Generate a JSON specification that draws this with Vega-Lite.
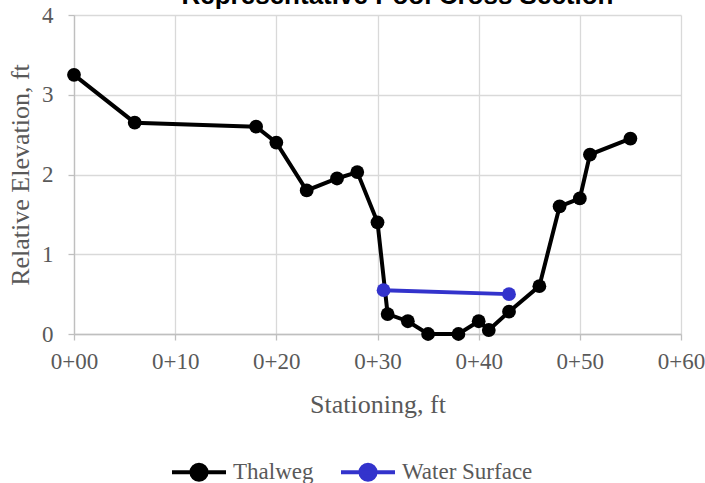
{
  "$schema": "https://vega.github.io/schema/vega-lite/v6.json",
  "width": 607,
  "height": 319,
  "autosize": {"type": "none"},
  "padding": {"left": 74, "top": 15, "right": 24, "bottom": 149},
  "background": "white",
  "title": {
    "text": "Representative Pool Cross Section",
    "font": "Liberation Sans",
    "fontWeight": "bold",
    "fontSize": 26,
    "color": "black",
    "anchor": "middle",
    "frame": "group",
    "baseline": "bottom",
    "offset": -31,
    "dx": 20
  },
  "config": {
    "view": {"stroke": null},
    "legend": {
      "labelFont": "Times New Roman",
      "labelFontSize": 23,
      "labelColor": "#595959"
    },
    "axis": {
      "labelFont": "Times New Roman",
      "titleFont": "Times New Roman",
      "labelColor": "#595959",
      "titleColor": "#595959",
      "labelFontSize": 23,
      "titleFontSize": 26,
      "titleFontWeight": "normal",
      "gridColor": "#d9d9d9",
      "gridWidth": 1.3,
      "domainColor": "#bfbfbf",
      "domainWidth": 1.3,
      "tickColor": "#bfbfbf",
      "tickSize": 6,
      "tickWidth": 1.3
    }
  },
  "data": {
    "values": [
      {"station": 0, "elev": 3.25, "series": "Thalweg"},
      {"station": 6, "elev": 2.65, "series": "Thalweg"},
      {"station": 18, "elev": 2.6, "series": "Thalweg"},
      {"station": 20, "elev": 2.4, "series": "Thalweg"},
      {"station": 23, "elev": 1.8, "series": "Thalweg"},
      {"station": 26, "elev": 1.95, "series": "Thalweg"},
      {"station": 28, "elev": 2.03, "series": "Thalweg"},
      {"station": 30, "elev": 1.4, "series": "Thalweg"},
      {"station": 31, "elev": 0.25, "series": "Thalweg"},
      {"station": 33, "elev": 0.16, "series": "Thalweg"},
      {"station": 35, "elev": 0.0, "series": "Thalweg"},
      {"station": 38, "elev": 0.0, "series": "Thalweg"},
      {"station": 40, "elev": 0.16, "series": "Thalweg"},
      {"station": 41, "elev": 0.05, "series": "Thalweg"},
      {"station": 43, "elev": 0.28, "series": "Thalweg"},
      {"station": 46, "elev": 0.6, "series": "Thalweg"},
      {"station": 48, "elev": 1.6, "series": "Thalweg"},
      {"station": 50, "elev": 1.7, "series": "Thalweg"},
      {"station": 51, "elev": 2.25, "series": "Thalweg"},
      {"station": 55, "elev": 2.45, "series": "Thalweg"},
      {"station": 30.6, "elev": 0.55, "series": "Water Surface"},
      {"station": 43, "elev": 0.5, "series": "Water Surface"}
    ]
  },
  "mark": {
    "type": "line",
    "strokeWidth": 4,
    "point": {"filled": true, "size": 190, "opacity": 1}
  },
  "encoding": {
    "x": {
      "field": "station",
      "type": "quantitative",
      "scale": {"domain": [0, 60], "nice": false},
      "axis": {
        "values": [0, 10, 20, 30, 40, 50, 60],
        "labelExpr": "'0+' + (datum.value < 10 ? '0' : '') + datum.value",
        "title": "Stationing, ft",
        "labelPadding": 10,
        "titlePadding": 18,
        "labelFlush": false
      }
    },
    "y": {
      "field": "elev",
      "type": "quantitative",
      "scale": {"domain": [0, 4], "nice": false},
      "axis": {
        "values": [0, 1, 2, 3, 4],
        "title": "Relative Elevation, ft",
        "labelPadding": 15,
        "titlePadding": 8,
        "labelFlush": false
      }
    },
    "color": {
      "field": "series",
      "type": "nominal",
      "scale": {"domain": ["Thalweg", "Water Surface"], "range": ["#000000", "#3333cc"]},
      "legend": {
        "title": null,
        "orient": "none",
        "direction": "horizontal",
        "legendX": 96,
        "legendY": 428,
        "labelFont": "Times New Roman",
        "labelFontSize": 23,
        "labelColor": "#595959",
        "labelOffset": 5,
        "columnPadding": 19,
        "symbolType": "M-1,0H1M-0.28,0A0.28,0.28,0,1,0,0.28,0A0.28,0.28,0,1,0,-0.28,0Z",
        "symbolSize": 2916,
        "symbolStrokeWidth": 4,
        "encode": {
          "symbols": {"update": {"fill": {"scale": "color", "field": "value"}, "stroke": {"scale": "color", "field": "value"}, "strokeWidth": {"value": 4}, "opacity": {"value": 1}, "strokeOpacity": {"value": 1}, "fillOpacity": {"value": 1}}}
        }
      }
    }
  }
}
